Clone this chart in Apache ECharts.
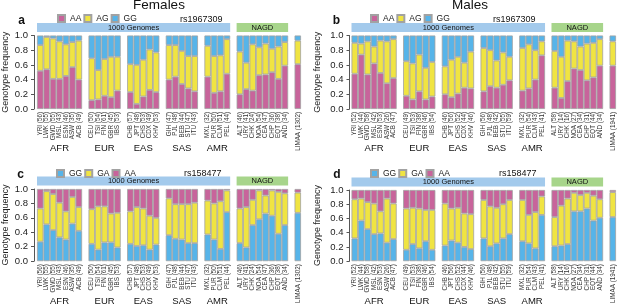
<!DOCTYPE html>
<html>
<head>
<meta charset="utf-8">
<script src="https://cdn.jsdelivr.net/npm/echarts/dist/echarts.min.js"></script>
<style>
  html, body { margin: 0; padding: 0; background: #fff; }
  #chart { width: 617px; height: 306px; }
</style>
</head>
<body>
<div id="chart"></div>
<script>
// population groups, in plotting order
const groupNames = ['AFR', 'EUR', 'EAS', 'SAS', 'AMR', 'NAGD', 'LIMAA'];
const groupSizes = [7, 5, 5, 5, 4, 8, 1];

const femaleLabels = ['YRI (56)', 'LWK (55)', 'GWD (55)', 'MSL (43)', 'ESN (46)', 'ASW (35)', 'ACB (49)',
  'CEU (50)', 'TSI (54)', 'FIN (61)', 'GBR (45)', 'IBS (53)',
  'CHB (57)', 'JPT (48)', 'CHS (53)', 'CDX (49)', 'KHV (53)',
  'GIH (47)', 'PJL (48)', 'BEB (44)', 'STU (47)', 'ITU (43)',
  'MXL (32)', 'PUR (50)', 'CLM (51)', 'PEL (44)',
  'ALT (46)', 'URY (41)', 'CHK (24)', 'NOA (54)', 'CEA (47)', 'CHP (36)', 'EQT (38)', 'AND (34)',
  'LIMAA (1302)'];
const maleLabels = ['YRI (52)', 'LWK (44)', 'GWD (58)', 'MSL (42)', 'ESN (53)', 'ASW (26)', 'ACB (47)',
  'CEU (49)', 'TSI (53)', 'FIN (38)', 'GBR (46)', 'IBS (54)',
  'CHB (46)', 'JPT (56)', 'CHS (52)', 'CDX (44)', 'KHV (46)',
  'GIH (56)', 'PJL (48)', 'BEB (42)', 'STU (55)', 'ITU (59)',
  'MXL (32)', 'PUR (54)', 'CLM (43)', 'PEL (41)',
  'ALT (58)', 'URY (14)', 'CHK (16)', 'NOA (27)', 'CEA (34)', 'CHP (31)', 'EQT (44)', 'AND (34)',
  'LIMAA (1941)'];

// a: females rs1967309
const aAA = [.52, .54, .41, .41, .45, .57, .40, .12, .13, .18, .16, .25, .23, .07, .17, .26, .23, .40, .44, .34, .28, .24, .44, .22, .24, .48, .20, .27, .25, .46, .47, .50, .41, .59, .61];
const aAG = [.35, .44, .55, .51, .43, .34, .53, .57, .40, .50, .55, .46, .38, .53, .50, .55, .54, .47, .43, .45, .44, .48, .42, .50, .49, .47, .58, .36, .63, .38, .42, .32, .44, .32, .32];
const aGG = [.13, .02, .04, .08, .12, .09, .07, .31, .47, .32, .29, .29, .39, .40, .33, .19, .23, .13, .13, .21, .28, .28, .14, .28, .27, .05, .22, .37, .12, .16, .11, .18, .15, .09, .07];

// b: males rs1967309
const bAA = [.48, .74, .47, .62, .49, .35, .42, .18, .13, .24, .13, .17, .20, .16, .21, .29, .28, .24, .31, .29, .33, .39, .25, .28, .40, .73, .29, .15, .38, .55, .53, .39, .43, .59, .59];
const bAG = [.42, .15, .45, .23, .44, .57, .53, .47, .49, .50, .43, .47, .38, .51, .50, .34, .50, .59, .49, .37, .44, .32, .58, .60, .40, .19, .50, .56, .55, .37, .32, .50, .47, .36, .33];
const bGG = [.10, .11, .08, .15, .07, .08, .05, .35, .38, .26, .44, .36, .42, .33, .29, .37, .22, .17, .20, .34, .23, .29, .17, .12, .20, .08, .21, .29, .07, .08, .15, .11, .10, .05, .08];

// c: females rs158477
const cGG = [.27, .51, .43, .33, .30, .52, .42, .24, .16, .26, .26, .19, .24, .21, .22, .16, .23, .36, .31, .30, .25, .25, .37, .30, .17, .68, .25, .19, .50, .58, .66, .63, .38, .50, .67];
const cGA = [.46, .46, .50, .48, .39, .37, .33, .48, .60, .50, .40, .48, .45, .54, .51, .47, .37, .51, .48, .49, .54, .56, .47, .50, .66, .30, .48, .56, .35, .40, .25, .35, .58, .44, .28];
const cAA = [.27, .03, .07, .19, .31, .11, .25, .28, .24, .24, .34, .33, .31, .25, .27, .37, .40, .13, .21, .21, .21, .19, .16, .20, .17, .02, .27, .25, .15, .02, .09, .02, .04, .06, .05];

// d: males rs158477
const dGG = [.32, .57, .45, .38, .39, .26, .31, .16, .24, .18, .28, .16, .22, .29, .26, .20, .17, .32, .21, .25, .32, .38, .28, .25, .18, .65, .21, .22, .24, .70, .70, .74, .57, .61, .62];
const dGA = [.55, .31, .38, .43, .31, .62, .50, .58, .51, .56, .44, .56, .59, .45, .49, .47, .49, .54, .56, .50, .48, .48, .58, .40, .51, .26, .41, .56, .64, .26, .23, .22, .35, .26, .35];
const dAA = [.13, .12, .17, .19, .30, .12, .19, .26, .25, .26, .28, .28, .19, .26, .25, .33, .34, .14, .23, .25, .20, .14, .14, .35, .31, .09, .38, .22, .12, .04, .07, .04, .08, .13, .03];

const yTicks = [0, 0.2, 0.4, 0.6, 0.8, 1.0];

const PINK = '#c8649b';
const YELLOW = '#f0e442';
const BLUE = '#56b4e9';
const FONT = '"Liberation Sans", Arial, sans-serif';

// insert an empty slot between population groups
function withGaps(list, gapValue) {
  const out = [];
  let k = 0;
  groupSizes.forEach(function (n, g) {
    if (g > 0) out.push(typeof gapValue === 'function' ? gapValue(g) : gapValue);
    for (let i = 0; i < n; i++) out.push(list[k++]);
  });
  return out;
}
// index of first bar of each group on the gapped axis
const groupStart = [];
(function () {
  let idx = 0;
  groupSizes.forEach(function (n, g) {
    if (g > 0) idx++;
    groupStart.push(idx);
    idx += n;
  });
})();

const panels = [
  { letter: 'a', grid: { left: 36, top: 35.5, width: 265, height: 73.5 }, labels: femaleLabels, snp: 'rs1967309',
    layers: [['AA', aAA, PINK], ['AG', aAG, YELLOW], ['GG', aGG, BLUE]],
    legend: [57, 14], snpPos: [180, 20], letterPos: [21.5, 21], yOffset: 3, nameGap: 24 },
  { letter: 'b', grid: { left: 351.5, top: 35.5, width: 264.5, height: 73.5 }, labels: maleLabels, snp: 'rs1967309',
    layers: [['AA', bAA, PINK], ['AG', bAG, YELLOW], ['GG', bGG, BLUE]],
    legend: [370, 14], snpPos: [493, 20], letterPos: [336.5, 20.5], yOffset: 2, nameGap: 27 },
  { letter: 'c', grid: { left: 36, top: 189, width: 265, height: 73 }, labels: femaleLabels, snp: 'rs158477',
    layers: [['GG', cGG, BLUE], ['GA', cGA, YELLOW], ['AA', cAA, PINK]],
    legend: [56, 169], snpPos: [184, 174], letterPos: [20.5, 174.5], yOffset: 3, nameGap: 24 },
  { letter: 'd', grid: { left: 351.5, top: 190, width: 264.5, height: 72.5 }, labels: maleLabels, snp: 'rs158477',
    layers: [['GG', dGG, BLUE], ['GA', dGA, YELLOW], ['AA', dAA, PINK]],
    legend: [370, 169], snpPos: [499, 174], letterPos: [337, 175], yOffset: 2, nameGap: 27 }
];

const chart = echarts.init(document.getElementById('chart'));

const series = [];
panels.forEach(function (p, pi) {
  p.layers.forEach(function (layer) {
    series.push({
      type: 'bar',
      name: layer[0],
      stack: 'panel' + pi,
      xAxisIndex: pi,
      yAxisIndex: pi,
      data: withGaps(layer[1], '-'),
      barWidth: '100%',
      itemStyle: { color: layer[2], borderColor: '#a2a2a2', borderWidth: 0.8 },
      emphasis: { disabled: true },
      silent: true
    });
  });
});

chart.setOption({
  animation: false,
  textStyle: { fontFamily: FONT },
  grid: panels.map(function (p) { return p.grid; }),
  xAxis: panels.map(function (p, pi) {
    return {
      type: 'category',
      gridIndex: pi,
      data: withGaps(p.labels, function (g) { return 'gap' + g; }),
      axisLine: { show: false },
      axisTick: { show: false },
      axisLabel: {
        interval: 0,
        rotate: 90,
        margin: 3,
        fontSize: 6.3,
        color: '#333',
        fontFamily: FONT,
        formatter: function (v) { return v.indexOf('gap') === 0 ? '' : v; }
      }
    };
  }),
  yAxis: panels.map(function (p, pi) {
    return {
      type: 'value',
      gridIndex: pi,
      min: 0,
      max: 1,
      interval: 0.2,
      offset: p.yOffset,
      name: 'Genotype frequency',
      nameLocation: 'middle',
      nameGap: p.nameGap,
      nameTextStyle: { fontSize: 9, color: '#222', fontFamily: FONT },
      splitLine: { show: false },
      axisLine: { show: true, lineStyle: { color: '#555', width: 1 } },
      axisTick: { show: true, length: 3, lineStyle: { color: '#555' } },
      axisLabel: {
        fontSize: 9.5, color: '#222', margin: 6, fontFamily: FONT,
        formatter: function (v) { return yTicks.indexOf(v) >= 0 ? v.toFixed(1) : ''; }
      }
    };
  }),
  legend: panels.map(function (p) {
    return {
      data: p.layers.map(function (l) { return l[0]; }),
      left: p.legend[0],
      top: p.legend[1],
      padding: 0,
      itemGap: 2,
      itemWidth: 7,
      itemHeight: 7,
      icon: 'rect',
      selectedMode: false,
      textStyle: { fontSize: 8.5, color: '#222', fontFamily: FONT }
    };
  }),
  series: series
});

// overlay: headers, group names, panel letters, titles
const graphics = [];
function txt(x, y, text, size, opts) {
  opts = opts || {};
  graphics.push({
    type: 'text', x: x, y: y, silent: true,
    style: {
      text: text,
      font: (opts.bold ? 'bold ' : '') + size + 'px ' + FONT,
      fill: opts.color || '#111',
      textAlign: opts.align || 'center',
      textVerticalAlign: 'middle'
    }
  });
}

panels.forEach(function (p, pi) {
  const px = function (i) { return chart.convertToPixel({ xAxisIndex: pi }, i); };
  const band = px(1) - px(0);
  const edgeL = function (i) { return px(i) - band / 2; };
  const edgeR = function (i) { return px(i) + band / 2; };
  const top = p.grid.top - 12.5;
  const bottom = p.grid.top + p.grid.height;

  const kgL = edgeL(groupStart[0]);
  const kgR = edgeR(groupStart[4] + groupSizes[4] - 1);
  graphics.push({ type: 'rect', silent: true, shape: { x: kgL, y: top, width: kgR - kgL, height: 9 }, style: { fill: '#a3caec' } });
  txt((kgL + kgR) / 2, top + 4.7, '1000 Genomes', 7.5);

  const ngL = edgeL(groupStart[5]);
  const ngR = edgeR(groupStart[5] + groupSizes[5] - 1);
  graphics.push({ type: 'rect', silent: true, shape: { x: ngL, y: top, width: ngR - ngL, height: 9 }, style: { fill: '#a7d58b' } });
  txt((ngL + ngR) / 2, top + 4.7, 'NAGD', 7.5);

  for (let g = 0; g < 5; g++) {
    const c = (edgeL(groupStart[g]) + edgeR(groupStart[g] + groupSizes[g] - 1)) / 2;
    txt(c, bottom + 39, groupNames[g], 9.5);
  }

  txt(p.letterPos[0], p.letterPos[1], p.letter, 12, { bold: true });
  txt(p.snpPos[0], p.snpPos[1], p.snp, 9, { align: 'left' });
});

txt(159, 5.5, 'Females', 13.5);
txt(470, 5.5, 'Males', 13.5);

chart.setOption({ graphic: graphics });
</script>
</body>
</html>
